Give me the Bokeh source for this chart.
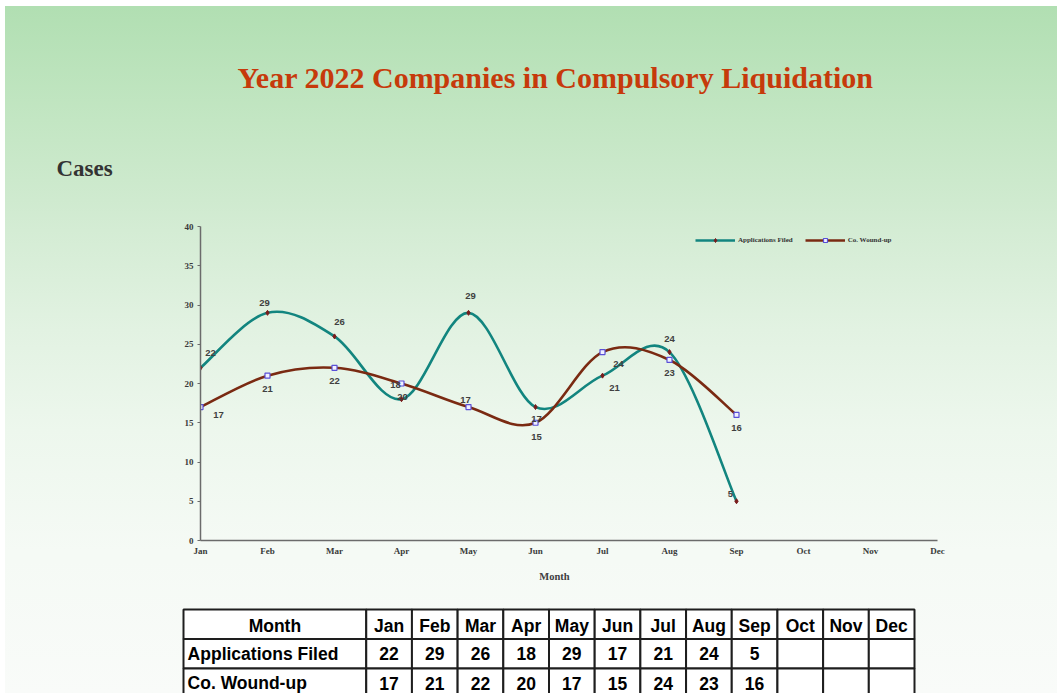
from bokeh.plotting import figure
from bokeh.models import Range1d, FixedTicker, Legend, LegendItem, ColumnDataSource
from bokeh.core.properties import value
from bokeh.embed import file_html
from bokeh.resources import INLINE

# ---------------- data ----------------
months = ["Jan", "Feb", "Mar", "Apr", "May", "Jun", "Jul", "Aug", "Sep", "Oct", "Nov", "Dec"]
applications_filed = [22, 29, 26, 18, 29, 17, 21, 24, 5]
co_wound_up = [17, 21, 22, 20, 17, 15, 24, 23, 16]
y_ticks = [0, 5, 10, 15, 20, 25, 30, 35, 40]
series_names = ["Applications Filed", "Co. Wound-up"]
title_text = "Year 2022 Companies in Compulsory Liquidation"
y_title = "Cases"
x_title = "Month"

# label offsets in screen pixels (style only)
app_dx = [10, -3, 5, -6, 2, 1, 12, 0, -6]
app_dy = [-15, -10, -14, -14, -17, 12, 12, -13, -7]
wnd_dx = [18, 0, 0, 1, -3, 1, 16, 0, 0]
wnd_dy = [8, 13, 13, 13, -7, 14, 12, 13, 13]

TEAL = "#12857f"
BROWN = "#7a2a12"
SERIF = "Liberation Serif"
SANS = "Liberation Sans"

# background gradient stops (page y, rgb)
GRAD = [(6, (177, 223, 178)), (120, (195, 230, 195)), (230, (212, 236, 212)),
        (330, (226, 242, 226)), (430, (237, 247, 237)), (550, (245, 250, 245)),
        (693, (249, 251, 249))]


def col_at(y):
    for (y0, c0), (y1, c1) in zip(GRAD[:-1], GRAD[1:]):
        if y0 <= y <= y1:
            f = (y - y0) / (y1 - y0)
            return tuple(round(a + (b - a) * f) for a, b in zip(c0, c1))
    return GRAD[0][1] if y < GRAD[0][0] else GRAD[-1][1]


def grad_css(a, b):
    ys = [a] + [y for y, _ in GRAD if a < y < b] + [b]
    parts = ["rgb(%d,%d,%d) %.2f%%" % (*col_at(y), 100.0 * (y - a) / (b - a)) for y in ys]
    return "linear-gradient(to bottom, " + ", ".join(parts) + ")"


def smooth_segments(ys):
    """Cubic Bezier segments (Excel-style smoothing) through the data points."""
    xs = list(range(len(ys)))
    n = len(ys)
    d = dict(x0=[], y0=[], x1=[], y1=[], cx0=[], cy0=[], cx1=[], cy1=[])
    for i in range(n - 1):
        i0 = max(i - 1, 0)
        i3 = min(i + 2, n - 1)
        d["x0"].append(xs[i]); d["y0"].append(ys[i])
        d["x1"].append(xs[i + 1]); d["y1"].append(ys[i + 1])
        d["cx0"].append(xs[i] + (xs[i + 1] - xs[i0]) / 6)
        d["cy0"].append(ys[i] + (ys[i + 1] - ys[i0]) / 6)
        d["cx1"].append(xs[i + 1] - (xs[i3] - xs[i]) / 6)
        d["cy1"].append(ys[i + 1] - (ys[i3] - ys[i]) / 6)
    return ColumnDataSource(d)


def bare(fig):
    fig.background_fill_color = None
    fig.border_fill_color = None
    fig.outline_line_color = None
    fig.grid.visible = False


W = 1052
# ---------------- header (title, "Cases") : page y 6..200 ----------------
h = figure(width=W, height=194, x_range=Range1d(0, W), y_range=Range1d(194, 0),
           output_backend="svg", toolbar_location=None, min_border=0,
           x_axis_type=None, y_axis_type=None,
           styles={"margin-left": "5px", "margin-top": "6px",
                   "background": grad_css(6, 200)})
bare(h)
h.text(x=[550], y=[71], text=[title_text], text_align="center", text_baseline="middle",
       text_font=value(SERIF), text_font_style="bold", text_font_size="30px",
       text_color="#c63a0b")
h.text(x=[51], y=[162], text=[y_title], text_align="left", text_baseline="middle",
       text_font=value(SERIF), text_font_style="bold", text_font_size="23px",
       text_color="#333333")

# ---------------- chart : page y 200..560 ----------------
p = figure(width=W, height=360, x_range=Range1d(0, 11), y_range=Range1d(0, 40),
           output_backend="svg", toolbar_location=None,
           min_border_left=195, min_border_right=120, min_border_top=26, min_border_bottom=20,
           styles={"margin-left": "5px", "background": grad_css(200, 560)})
bare(p)

for ax in (p.xaxis[0], p.yaxis[0]):
    ax.axis_line_color = "#6b6b6b"
    ax.axis_line_width = 1.5
    ax.major_label_text_font = SERIF
    ax.major_label_text_font_style = "bold"
    ax.major_label_text_font_size = "9px"
    ax.major_label_text_color = "#3a3a3a"
    ax.minor_tick_line_color = None
    ax.major_tick_line_color = "#6b6b6b"

p.xaxis.ticker = FixedTicker(ticks=list(range(len(months))))
p.xaxis.major_label_overrides = {i: m for i, m in enumerate(months)}
p.xaxis.major_tick_out = 0
p.xaxis.major_tick_in = 0
p.xaxis.major_label_standoff = 5
p.yaxis.ticker = FixedTicker(ticks=y_ticks)
p.yaxis.major_tick_out = 3
p.yaxis.major_tick_in = 0
p.yaxis.major_label_standoff = 4

x_idx = list(range(len(applications_filed)))

b1 = p.bezier(source=smooth_segments(applications_filed), x0="x0", y0="y0", x1="x1", y1="y1",
              cx0="cx0", cy0="cy0", cx1="cx1", cy1="cy1", line_color=TEAL, line_width=2.6)
b2 = p.bezier(source=smooth_segments(co_wound_up), x0="x0", y0="y0", x1="x1", y1="y1",
              cx0="cx0", cy0="cy0", cx1="cx1", cy1="cy1", line_color=BROWN, line_width=2.6)

s1 = p.scatter(x_idx, applications_filed, marker="diamond", size=5,
               fill_color="#7a1c1c", line_color="#7a1c1c")
s2 = p.scatter(x_idx, co_wound_up, marker="square", size=5,
               fill_color="#f0f0ff", line_color="#5a50d8", line_width=1.2)

p.text(x_idx, applications_filed, text=[str(v) for v in applications_filed],
       x_offset=app_dx, y_offset=app_dy, text_align="center", text_baseline="middle",
       text_font=value(SANS), text_font_style="bold", text_font_size="9.5px", text_color="#404040")
p.text(x_idx, co_wound_up, text=[str(v) for v in co_wound_up],
       x_offset=wnd_dx, y_offset=wnd_dy, text_align="center", text_baseline="middle",
       text_font=value(SANS), text_font_style="bold", text_font_size="9.5px", text_color="#404040")

legend = Legend(items=[LegendItem(label=series_names[0], renderers=[b1, s1]),
                       LegendItem(label=series_names[1], renderers=[b2, s2])],
                orientation="horizontal", location=(495, 295),
                glyph_width=40, glyph_height=10, label_height=10, label_standoff=3,
                spacing=12, padding=0, margin=0, border_line_color=None,
                background_fill_alpha=0,
                label_text_font=SERIF, label_text_font_style="bold",
                label_text_font_size="7px", label_text_color="#333333")
p.add_layout(legend)

# ---------------- table (+ x-axis title) : page y 560..693 ----------------
unit = (914 - 183) / 16.0
rowh = 29.5
t = figure(width=W, height=133,
           x_range=Range1d((5 - 183) / unit, (1057 - 183) / unit),
           y_range=Range1d((693 - 609) / rowh, (560 - 609) / rowh),
           output_backend="svg", toolbar_location=None, min_border=0,
           x_axis_type=None, y_axis_type=None,
           styles={"margin-left": "5px", "background": grad_css(560, 693)})
bare(t)

t.text(x=[(554 - 183) / unit], y=[(576 - 609) / rowh], text=[x_title],
       text_align="center", text_baseline="middle",
       text_font=value(SERIF), text_font_style="bold", text_font_size="10.5px",
       text_color="#404040")

col_w = [4] + [1] * len(months)
lefts = [sum(col_w[:i]) for i in range(len(col_w))]
rows = [[x_title] + months,
        [series_names[0]] + [str(v) for v in applications_filed] + [""] * (len(months) - len(applications_filed)),
        [series_names[1]] + [str(v) for v in co_wound_up] + [""] * (len(months) - len(co_wound_up))]

ql, qr, qt, qb = [], [], [], []
cx, cy, ct, lx, ly, lt = [], [], [], [], [], []
for r, row in enumerate(rows):
    for c, txt in enumerate(row):
        ql.append(lefts[c]); qr.append(lefts[c] + col_w[c]); qt.append(r); qb.append(r + 1)
        if c == 0 and r > 0:
            lx.append(lefts[c] + 0.09); ly.append(r + 0.5); lt.append(txt)
        else:
            cx.append(lefts[c] + col_w[c] / 2); cy.append(r + (0.55 if r == 0 else 0.5)); ct.append(txt)

t.quad(left=ql, right=qr, top=qt, bottom=qb, fill_color="white",
       line_color="#1e1e1e", line_width=2)
t.text(cx, cy, text=ct, text_align="center", text_baseline="middle",
       text_font=value(SANS), text_font_style="bold", text_font_size="17.5px", text_color="black")
t.text(lx, ly, text=lt, text_align="left", text_baseline="middle",
       text_font=value(SANS), text_font_style="bold", text_font_size="17.5px", text_color="black")

open("out.html", "w").write(file_html([h, p, t], INLINE))
